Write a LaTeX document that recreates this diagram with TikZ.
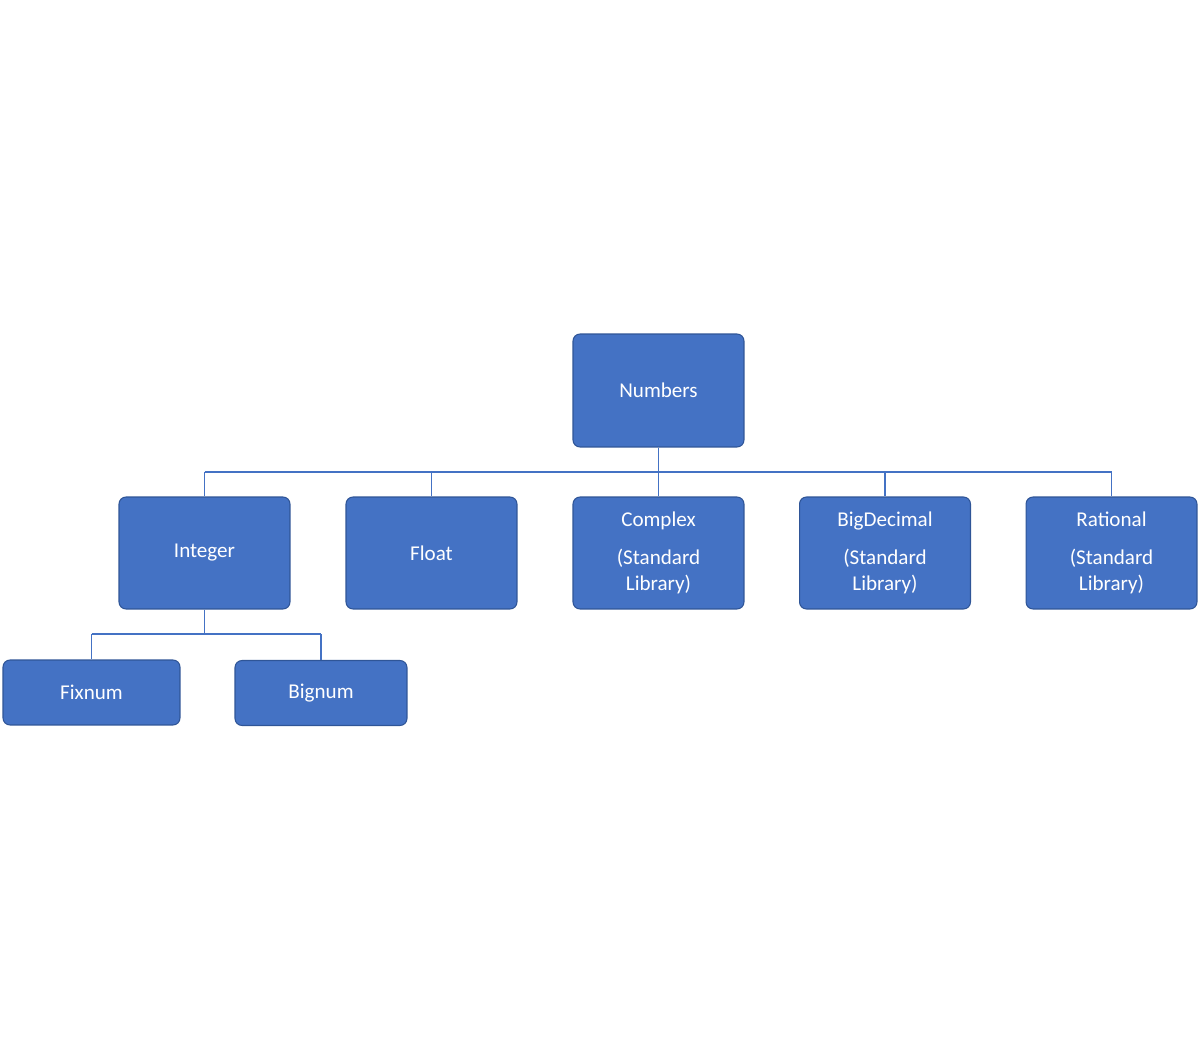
\documentclass[tikz,border=0pt]{standalone}
\usepackage{fontspec}
\setmainfont{Carlito}
\definecolor{boxblue}{HTML}{4472C4}
\definecolor{edgeblue}{HTML}{2F5597}
\begin{document}
\begin{tikzpicture}[x=0.02cm,y=-0.02cm,
  box/.style={draw=edgeblue,line width=0.6pt,fill=boxblue,rounded corners=4pt,text=white,
    font=\fontsize{12}{14.5}\selectfont,align=center,inner sep=0pt},
  big/.style={box,minimum width=3.42cm,minimum height=2.24cm},
  small/.style={box,minimum height=1.3cm},
  conn/.style={draw=boxblue,line width=1pt}]
\useasboundingbox (0,0) rectangle (1200,1060);
\node[big,minimum height=2.26cm] (num) at (658.5,390.5) {Numbers};
\node[big] (int) at (204.5,553) {Integer};
\node[big] (flt) at (431.5,553) {Float};
\node[big] (cpx) at (658.5,553) {Complex\\[7pt](Standard\\Library)};
\node[big] (bd) at (885,553) {BigDecimal\\[7pt](Standard\\Library)};
\node[big] (rat) at (1111.5,553) {Rational\\[7pt](Standard\\Library)};
\node[small,minimum width=3.54cm] (fix) at (91.5,692.5) {Fixnum};
\node[small,minimum width=3.44cm] (big) at (321,693) {Bignum};
\coordinate (bus) at (658.5,472);
\coordinate (ibus) at (204.5,634);
\draw[conn] (num.south) -- (bus);
\foreach \n in {int,flt,cpx,bd,rat} \draw[conn] (bus -| \n.north) -- (\n.north);
\draw[conn] (bus -| int.north) -- (bus -| rat.north);
\draw[conn] (int.south) -- (ibus);
\draw[conn] (ibus -| fix.north) -- (ibus -| big.north);
\draw[conn] (ibus -| fix.north) -- (fix.north);
\draw[conn] (ibus -| big.north) -- (big.north);
\end{tikzpicture}
\end{document}
